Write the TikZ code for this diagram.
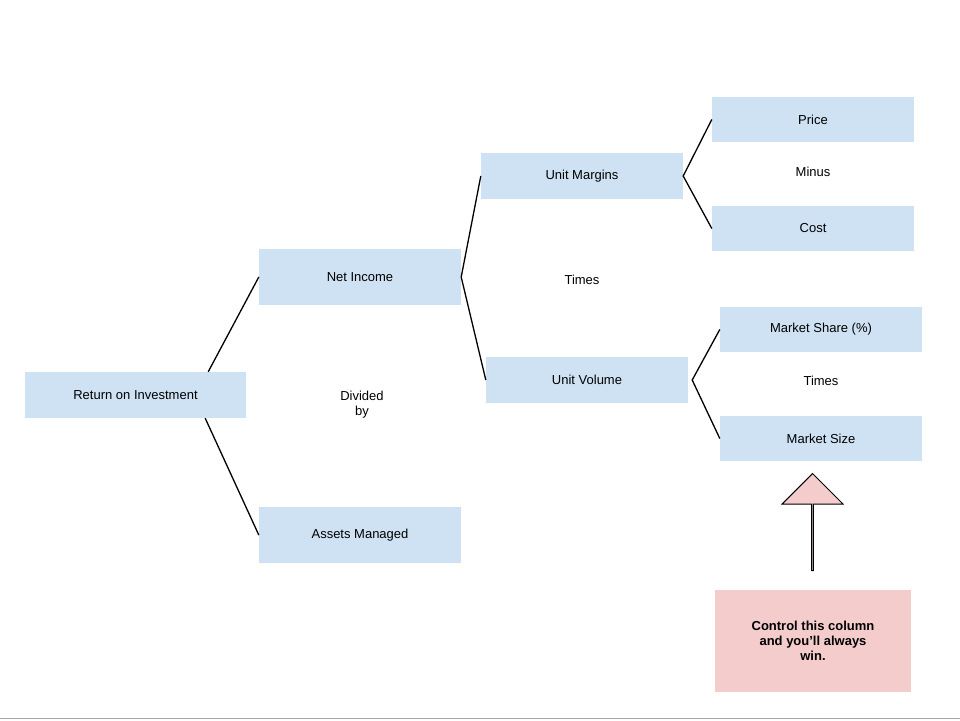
\documentclass[tikz,border=0pt]{standalone}
\usepackage{fontspec}
\setmainfont{Liberation Sans}
\usetikzlibrary{positioning, shapes.arrows}
\definecolor{boxblue}{HTML}{CFE2F3}
\definecolor{boxpink}{HTML}{F4CCCC}

\begin{document}
\begin{tikzpicture} [
						x=1pt, y=-1pt,
						box/.style={fill=boxblue, minimum width=202pt, minimum height=46pt, inner sep=0pt, font=\fontsize{13}{15}\selectfont},
						word/.style={font=\fontsize{13}{15}\selectfont, align=center},
						link/.style={line width=1.3pt}
					]

\useasboundingbox (0,0) rectangle (960,720);
\draw[gray!70, line width=1pt] (0,718) -- (960,718);

\node (roi) [box, minimum width=221pt] at (135.5,395) {Return on Investment};
\node (ni) [box, minimum height=56pt] at (360,277) {Net Income};
\node (am) [box, minimum height=56pt] at (360,535) {Assets Managed};
\node (um) [box] at (582,176) {Unit Margins};
\node (uv) [box] at (587,380) {Unit Volume};
\node (price) [box, minimum height=45pt] at (813,119.5) {Price};
\node (cost) [box, minimum height=45pt] at (813,228.5) {Cost};
\node (share) [box, minimum height=45pt] at (821,329.5) {Market Share (\%)};
\node (size) [box, minimum height=45pt] at (821,438.5) {Market Size};

\node (div) [word] at (362,405) {Divided\\by};
\node (times1) [word] at (582,280) {Times};
\node (minus) [word] at (813,172) {Minus};
\node (times2) [word] at (821,381) {Times};

\node (up) [single arrow, shape border rotate=90, draw=black, fill=boxpink, line width=1pt,
	minimum width=61pt, single arrow head extend=16pt, single arrow tip angle=90,
	minimum height=97pt, inner sep=0pt] at (812.5,522.5) {};
\node (win) [fill=boxpink, minimum width=196pt, minimum height=102pt, align=center,
	font=\fontsize{13}{15}\selectfont\bfseries] at (813,641) {Control this column\\and you’ll always\\win.};

\coordinate (roi-top) at ([xshift=-38pt]roi.north east);
\coordinate (roi-bot) at ([xshift=-41pt]roi.south east);

\draw[link] (roi-top) -- (ni.west);
\draw[link] (roi-bot) -- (am.west);
\draw[link] (um.west) -- (ni.east) -- (uv.west);
\draw[link] (price.west) -- (um.east) -- (cost.west);
\draw[link] (share.west) -- ([xshift=4pt]uv.east) -- (size.west);
\end{tikzpicture}
\end{document}
